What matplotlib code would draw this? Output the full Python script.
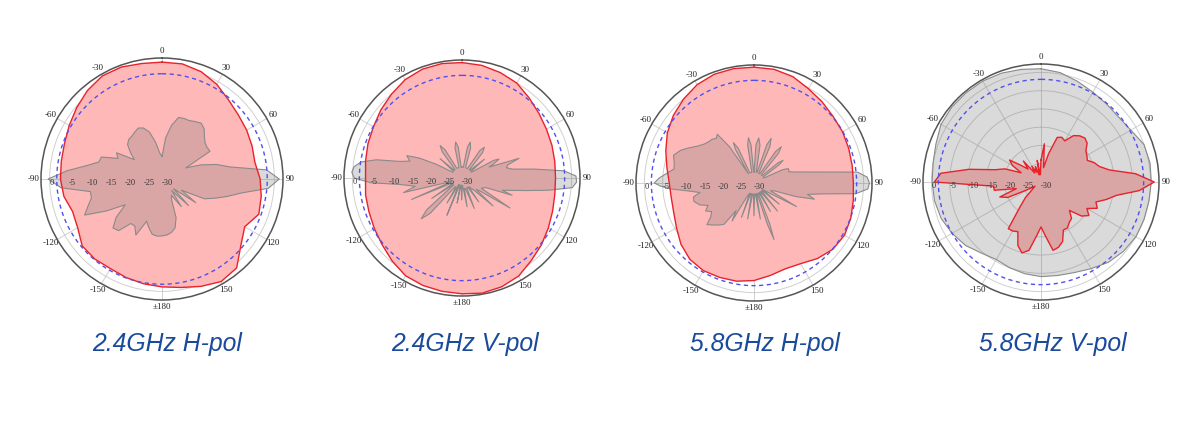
import numpy as np
import matplotlib
matplotlib.use('Agg')
import matplotlib.pyplot as plt

# angles in degrees, clockwise from the top (0 = top, 90 = right)
ang10 = np.arange(0, 360, 10)
ang5 = np.arange(0, 360, 5)

# 2.4GHz H-pol
h24_red = [1.2, 1.2, 0.5, -0.8, -2.4, -3.4, -3.9, -4.4, -4.8, -3.8, -3.1, -2.5,
           -4.5, -2.5, 1.0, 1.6, 0.5, -0.6, -1.2, -1.6, -2.0, -2.4, -2.1, -2.2,
           -4.0, -4.6, -3.4, -2.9, -2.7, -2.3, -1.4, -0.3, 0.9, 1.8, 1.8, 1.3]
h24_gray = [-24, -19, -15.5, -13, -12.8, -12.8, -12.3, -11.8, -12.5, -14, -15, -15.3,
            -15.2, -23, -19, -15, -11.5, -2, 1.3, -1.5, -8.5, -12, -15, -17.5,
            -24, -19, -26, -20, -26, -21, -25, -24, -19, -16.5, -15.5, -15,
            -14.8, -14.7, -15, -16.5, -18, -13.5, -15.5, -15.5, -12, -11.5, -14, -18,
            -13, -7.2, -9, -10.5, -10.6, -3, 0.4, -4.6, -9.5, -12.5, -12.8, -17,
            -16, -21, -19, -17, -16.2, -16, -15.5, -15, -15.5, -17, -20, -23]

# 2.4GHz V-pol
v24_red = [1.6, 1.3, 0.7, 0.0, -1.4, -2.5, -3.3, -3.8, -4.2, -4.4, -4.2, -3.6,
           -2.7, -1.6, -0.5, 1.0, 1.7, 2.0, 1.7, 1.5, 1.3, 0.9, -0.3, -1.5,
           -2.3, -2.9, -3.2, -3.6, -3.2, -2.6, -2.0, -1.0, 0.0, 1.1, 1.7, 1.8]
v24_gray_ang = [0, 7, 10, 13, 16, 19, 30, 33, 36, 39, 42, 46, 50, 54,
                58, 61, 63, 66, 68, 71, 74, 77, 80, 83, 86, 89, 92, 95, 98,
                101, 104, 107, 109, 112, 118, 122, 126, 129, 132, 135,
                142, 145, 148, 154, 158, 162, 167, 170, 173, 177, 181, 185,
                188, 191, 194, 198, 202, 206, 208, 211, 214, 218, 222, 225,
                228, 231, 233, 236, 239, 243, 247, 251, 253, 256, 260, 264,
                267, 270, 273, 276, 279, 282, 285, 288, 292, 295, 298, 302,
                308, 311.5, 315, 320, 323, 326, 329, 332, 344, 347, 350, 353, 356]
v24_gray = [-27, -27, -21.5, -19.9, -21.5, -27, -27, -21, -19.6, -21, -27, -27, -22, -27,
            -27, -20, -18.6, -20.5, -22, -13.5, -17, -17.5, -16, -10, -2, 1.2, 1.4, 0.3, -6,
            -12, -16, -18.5, -15.5, -23, -24, -14.5, -24, -25, -18.6, -25,
            -27, -22, -27, -27, -21, -27, -27, -22, -27, -28, -24, -28,
            -28, -23, -28, -28, -19, -28, -27, -22, -27, -27, -17, -14.2,
            -17, -27, -27, -20, -27, -27, -15, -27, -26, -13.5, -17, -13,
            -5, -0.5, 0.2, -0.3, -2, -6, -12.5, -15, -13.7, -17, -22, -27,
            -27, -22, -27, -27, -21, -19.3, -21, -27, -27, -21.5, -20, -21.5, -27]

# 5.8GHz H-pol
h58_red = [1.7, 1.6, 1.0, -0.2, -1.0, -1.7, -2.0, -2.4, -2.7, -2.8, -2.4, -1.8,
           -1.4, -1.8, -3.0, -4.5, -5.0, -4.3, -3.3, -2.7, -2.5, -2.3, -2.7, -3.9,
           -5.5, -6.6, -7.0, -6.8, -5.8, -4.3, -2.6, -1.2, 0.0, 1.1, 1.7, 1.8]
h58_gray_ang = [0, 3, 6, 9, 12, 16, 18.5, 21, 23.5, 26, 32, 34.5, 37, 39.5, 42,
                48, 50, 52, 54, 57, 63, 65, 67, 69, 72, 75, 78, 81, 84, 87, 90,
                93, 96, 99, 102, 105, 108, 111, 115, 119, 123, 127, 130, 133,
                137, 140, 143, 147, 150, 153, 157, 159, 160.5, 162, 164,
                167, 170, 173, 177, 180, 183, 187, 190, 193, 197, 200, 203,
                207, 210, 213, 216, 220, 224, 228.5, 232, 236, 240, 244, 248,
                253, 257, 260, 263, 266, 268, 270, 273, 276, 280, 284, 289,
                294, 298, 303, 308, 312, 316, 320, 323, 326, 328.5, 331, 333,
                335.5, 338, 348, 350.5, 353, 355.5, 358]
h58_gray = [-27, -19.5, -17.6, -19.5, -27, -27, -19, -16.9, -19, -27, -27, -19.5, -17.6, -19.5, -27,
            -27, -21.5, -19.9, -21.5, -27, -27, -21.5, -19.9, -19.8, -20, -18.4, -15.5, -10.8, -1.5, 1, 1.6,
            1.2, -2, -11, -15, -12.9, -18, -24, -25, -16.7, -25, -27, -21, -27,
            -27, -20, -27, -27, -21, -27, -27, -18, -13.6, -18, -27,
            -27, -20, -27, -27, -21, -27, -27, -20, -27, -27, -20, -27,
            -26, -18, -21, -16, -15, -14, -12.8, -15, -16, -14.7, -16, -14,
            -12.8, -13, -15, -12, -7, -4.5, -2.7, -4, -5.8, -7.8, -7.5, -6.7,
            -8, -9.6, -11.5, -12.7, -13.2, -13.4, -14, -13.3, -18, -27, -19.5, -17.6,
            -19.5, -27, -27, -19.5, -17.5, -19.5, -27]

# 5.8GHz V-pol
v58_gray = [1.0, 0.4, -0.7, -1.6, -2.1, -2.3, -1.6, 0.0, 0.3, 0.2, 0.0, 0.0,
            0.0, -0.5, -1.3, -2.6, -3.6, -4.0, -4.1, -4.5, -5.0, -5.5, -4.6, -3.0,
            -1.9, -0.9, -0.4, -0.2, 0.0, 0.6, 1.6, 1.9, 1.9, 1.9, 1.7, 1.3]
v58_red = [-24, -19.5, -26, -22, -17, -16.5, -17, -14.5, -13.5, -13, -13.5, -15,
           -15.5, -16, -14.5, -13.5, -11, -4, 1, -3, -9, -11.5, -14, -13,
           -15.5, -14, -15.5, -19, -17, -16.5, -15.5, -15.5, -12.7, -11.5, -11, -15,
           -17.7, -15, -11, -9.9, -11.5, -15, -14.5, -14.4, -21, -24, -27, -28,
           -26, -20, -18, -23, -17, -17, -0.8, -2.5, -10, -17, -19.5, -24,
           -21, -19.5, -23, -25, -22.5, -27, -25, -27, -25.5, -28, -24, -28]

titles = ['2.4GHz H-pol', '2.4GHz V-pol', '5.8GHz H-pol', '5.8GHz V-pol']
theta_labels = ['0', '30', '60', '90', '120', '150', '\u00b1180',
                '-150', '-120', '-90', '-60', '-30']
ring_values = [0, -5, -10, -15, -20, -25, -30]

charts = [
    (ang10, h24_red, ang5, h24_gray),
    (ang10, v24_red, v24_gray_ang, v24_gray),
    (ang10, h58_red, h58_gray_ang, h58_gray),
    (ang5, v58_red, ang10, v58_gray),
]

# pixel centre x, centre y, frame radius
places = [(162, 179, 121), (462, 178, 118), (754, 183, 118), (1041, 182, 118)]
title_x = [167, 465, 765, 1053]

W, H = 1200, 432
RMIN, RMAX = -30, 2.3


def closed(ang, vals):
    th = np.radians(np.append(ang, ang[0] + 360))
    r = np.append(vals, vals[0])
    return th, r


fig = plt.figure(figsize=(W / 100, H / 100), dpi=100)

for (ra, rv, ga, gv), (cx, cy, R), title, tx in zip(charts, places, titles, title_x):
    ax = fig.add_axes([(cx - R) / W, 1 - (cy + R) / H, 2 * R / W, 2 * R / H],
                      projection='polar')
    ax.set_theta_zero_location('N')
    ax.set_theta_direction(-1)
    ax.set_ylim(RMIN, RMAX)

    th_r, r_r = closed(ra, rv)
    th_g, r_g = closed(ga, gv)

    ax.fill(th_r, r_r, facecolor='#ffb8b8', edgecolor='none', zorder=2)
    ax.fill(th_g, r_g, facecolor='#6e6e6e', alpha=0.25, edgecolor='none', zorder=3)
    ax.plot(th_g, r_g, color='#8a8a8a', lw=0.8, zorder=4)
    ax.plot(th_r, r_r, color='#e8222a', lw=1.0, zorder=5)

    circ = np.linspace(0, 2 * np.pi, 361)
    ax.plot(circ, np.full_like(circ, -1.9), color='#5050ee', lw=1.0,
            ls=(0, (3, 2.5)), zorder=6)

    ax.set_xticks(np.radians(np.arange(0, 360, 30)))
    ax.set_xticklabels(theta_labels, fontsize=6.5, color='#222222',
                       family='Liberation Serif')
    ax.tick_params(axis='x', pad=-5.3)
    ax.set_yticks([-25, -20, -15, -10, -5, 0])
    ax.set_yticklabels([])
    ax.grid(color='#c4c4c4', lw=0.7)
    for gl in ax.xaxis.get_gridlines() + ax.yaxis.get_gridlines():
        gl.set_zorder(7)
        gl.set_alpha(0.8)
    ax.spines['polar'].set_color('#555555')
    ax.spines['polar'].set_linewidth(1.1)
    ax.set_facecolor('white')

    for v in ring_values:
        ax.text(np.radians(-90), v, str(v), fontsize=6, color='#333333',
                ha='left', va='top', family='Liberation Serif', zorder=8)

    fig.text(tx / W, 1 - 344 / H, title, ha='center', va='center',
             color='#1a4a9c', fontsize=17.8, style='italic',
             family='Liberation Sans')

fig.savefig('out.png', dpi=100, facecolor='white')
